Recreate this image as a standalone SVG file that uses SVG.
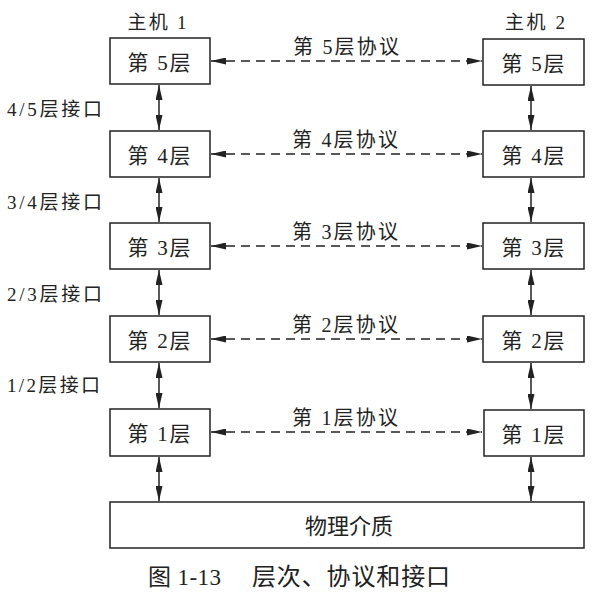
<svg xmlns="http://www.w3.org/2000/svg" width="594" height="595" viewBox="0 0 594 595">
<defs>
<style>
text{font-family:"Liberation Serif","Noto Sans CJK SC",serif;fill:#222;}
.box{fill:#fff;stroke:#222;stroke-width:1.5;}
.lbl{font-size:21px;text-anchor:middle;}
.proto{font-size:20px;text-anchor:middle;}
.ifc{font-size:19px;}
.v{stroke:#222;stroke-width:1.5;fill:none;marker-start:url(#ah);marker-end:url(#ah);}
.d{stroke:#222;stroke-width:1.5;fill:none;stroke-dasharray:9 6;marker-start:url(#ah);marker-end:url(#ah);}
</style>
<marker id="ah" viewBox="0 0 15 7" refX="15" refY="3.5" markerWidth="15" markerHeight="7" markerUnits="userSpaceOnUse" orient="auto-start-reverse">
<path d="M0,0 L15,3.5 L0,7 Z" fill="#222"/>
</marker>
</defs>
<rect width="594" height="595" fill="#fff"/>
<text x="157" y="29" font-size="19" text-anchor="middle" textLength="59">主机 1</text>
<text x="535" y="29" font-size="19" text-anchor="middle" textLength="60">主机 2</text>
<g id="connectors">
<line class="d" x1="211" y1="61" x2="482" y2="61"/>
<line class="d" x1="211" y1="154" x2="482" y2="154"/>
<line class="d" x1="211" y1="246" x2="482" y2="246"/>
<line class="d" x1="211" y1="339" x2="482" y2="339"/>
<line class="d" x1="211" y1="432" x2="482" y2="432"/>
<line class="v" x1="159" y1="85" x2="159" y2="130"/>
<line class="v" x1="159" y1="178" x2="159" y2="222"/>
<line class="v" x1="159" y1="270" x2="159" y2="315"/>
<line class="v" x1="159" y1="363" x2="159" y2="408"/>
<line class="v" x1="159" y1="457" x2="159" y2="501"/>
<line class="v" x1="531" y1="86" x2="531" y2="130"/>
<line class="v" x1="531" y1="178" x2="531" y2="222"/>
<line class="v" x1="531" y1="270" x2="531" y2="315"/>
<line class="v" x1="531" y1="363" x2="531" y2="409"/>
<line class="v" x1="531" y1="457" x2="531" y2="501"/>
</g>
<g id="labels">
<text class="proto" x="346" y="54" textLength="106">第 5层协议</text>
<text class="proto" x="345" y="147" textLength="106">第 4层协议</text>
<text class="proto" x="345" y="239" textLength="106">第 3层协议</text>
<text class="proto" x="345" y="332" textLength="106">第 2层协议</text>
<text class="proto" x="345" y="425" textLength="106">第 1层协议</text>
<text class="ifc" x="7" y="116" textLength="95">4/5层接口</text>
<text class="ifc" x="7" y="209" textLength="95">3/4层接口</text>
<text class="ifc" x="7" y="301" textLength="95">2/3层接口</text>
<text class="ifc" x="7" y="392" textLength="93">1/2层接口</text>
</g>
<g id="h1-l5"><rect class="box" x="110" y="38" width="100" height="46"/><text class="lbl" x="159" y="70" textLength="63">第 5层</text></g>
<g id="h1-l4"><rect class="box" x="110" y="131" width="100" height="46"/><text class="lbl" x="159" y="163" textLength="63">第 4层</text></g>
<g id="h1-l3"><rect class="box" x="110" y="223" width="100" height="46"/><text class="lbl" x="159" y="255" textLength="63">第 3层</text></g>
<g id="h1-l2"><rect class="box" x="110" y="316" width="100" height="46"/><text class="lbl" x="159" y="348" textLength="63">第 2层</text></g>
<g id="h1-l1"><rect class="box" x="110" y="409" width="100" height="47"/><text class="lbl" x="159" y="441" textLength="63">第 1层</text></g>
<g id="h2-l5"><rect class="box" x="483" y="39" width="101" height="46"/><text class="lbl" x="533" y="71" textLength="63">第 5层</text></g>
<g id="h2-l4"><rect class="box" x="483" y="131" width="101" height="46"/><text class="lbl" x="533" y="163" textLength="63">第 4层</text></g>
<g id="h2-l3"><rect class="box" x="483" y="223" width="101" height="46"/><text class="lbl" x="533" y="255" textLength="63">第 3层</text></g>
<g id="h2-l2"><rect class="box" x="483" y="316" width="101" height="46"/><text class="lbl" x="533" y="348" textLength="63">第 2层</text></g>
<g id="h2-l1"><rect class="box" x="484" y="410" width="100" height="46"/><text class="lbl" x="533" y="442" textLength="63">第 1层</text></g>
<g id="medium"><rect class="box" x="110" y="502" width="474" height="46"/><text x="349" y="534" font-size="22" text-anchor="middle" textLength="88">物理介质</text></g>
<text x="148" y="585" font-size="23" textLength="73">图 1-13</text>
<text x="252" y="585" font-size="24" textLength="198">层次、协议和接口</text>
</svg>
